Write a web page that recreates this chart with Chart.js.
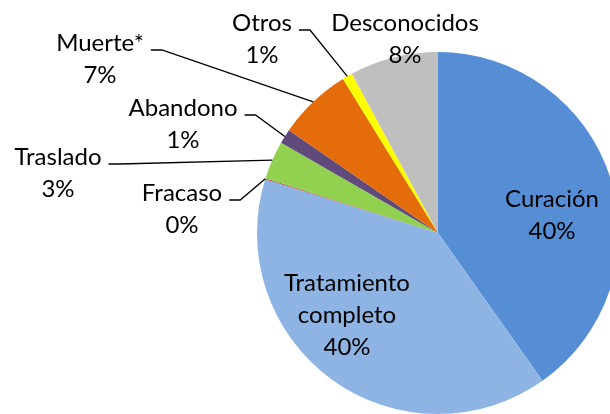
<!DOCTYPE html>
<html lang="es">
<head>
<meta charset="UTF-8">
<title>Resultado del tratamiento</title>
<script src="https://cdn.jsdelivr.net/npm/chart.js"></script>
<style>
    html, body { margin: 0; padding: 0; background: #fff; overflow: hidden; }
    #wrap { width: 650px; height: 414px; }
</style>
</head>
<body>
<div id="wrap"><canvas id="pie" width="650" height="414"></canvas></div>
<script>
    // categories and shares (percent), read clockwise from 12 o'clock
    const categories = ['Curación', ['Tratamiento', 'completo'], 'Fracaso', 'Traslado', 'Abandono', 'Muerte*', 'Otros', 'Desconocidos'];
    const values = [40.2, 39.6, 0.1, 3.4, 1.3, 6.6, 0.9, 7.9];
    const colors = ['#558ED5', '#8EB4E3', '#C0504D', '#92D050', '#604A7B', '#E46C0A', '#FFFF00', '#BFBFBF'];

    // where each label sits, relative to the pie centre (first text line)
    const labelLayout = [
        { dx: 114, dy: -34, leader: false },
        { dx: -91, dy: 50, leader: false },
        { dx: -256, dy: -40, leader: true },
        { dx: -380, dy: -76, leader: true },
        { dx: -255, dy: -125, leader: true },
        { dx: -338, dy: -190, leader: true },
        { dx: -176, dy: -210, leader: true },
        { dx: -33, dy: -210, leader: false }
    ];

    const FONT = '24px Lato, "Open Sans", sans-serif';
    const LINE_H = 32;

    const pieLabels = {
        id: 'pieLabels',
        afterDatasetsDraw(chart) {
            const ctx = chart.ctx;
            const meta = chart.getDatasetMeta(0);
            const total = values.reduce((a, b) => a + b, 0);
            ctx.save();
            ctx.font = FONT;
            ctx.fillStyle = '#000';
            ctx.textAlign = 'center';
            ctx.textBaseline = 'middle';
            meta.data.forEach((arc, i) => {
                const p = arc.getProps(['x', 'y', 'startAngle', 'endAngle', 'outerRadius'], true);
                const lay = labelLayout[i];
                const tx = p.x + lay.dx;
                const ty = p.y + lay.dy;
                const lines = [].concat(categories[i], Math.round(values[i] / total * 100) + '%');
                lines.forEach((t, k) => ctx.fillText(t, tx, ty + k * LINE_H));

                if (lay.leader) {
                    const mid = (p.startAngle + p.endAngle) / 2;
                    const ex = p.x + Math.cos(mid) * p.outerRadius;
                    const ey = p.y + Math.sin(mid) * p.outerRadius;
                    const w = ctx.measureText(lines[0]).width;
                    const sx = tx + w / 2 + 7;
                    const sy = ty + 7;
                    ctx.beginPath();
                    ctx.strokeStyle = '#000';
                    ctx.lineWidth = 1.3;
                    ctx.moveTo(sx, sy);
                    ctx.lineTo(sx + 11, sy);
                    ctx.lineTo(ex, ey);
                    ctx.stroke();
                }
            });
            ctx.restore();
        }
    };

    new Chart(document.getElementById('pie'), {
        type: 'pie',
        data: {
            labels: categories,
            datasets: [{
                data: values,
                backgroundColor: colors,
                borderWidth: 0,
                hoverOffset: 0,
                offset: 0
            }]
        },
        options: {
            responsive: false,
            animation: false,
            layout: { padding: { left: 257, right: 31, top: 52, bottom: 0 } },
            plugins: {
                legend: { display: false },
                tooltip: { enabled: false }
            }
        },
        plugins: [pieLabels]
    });
</script>
</body>
</html>
